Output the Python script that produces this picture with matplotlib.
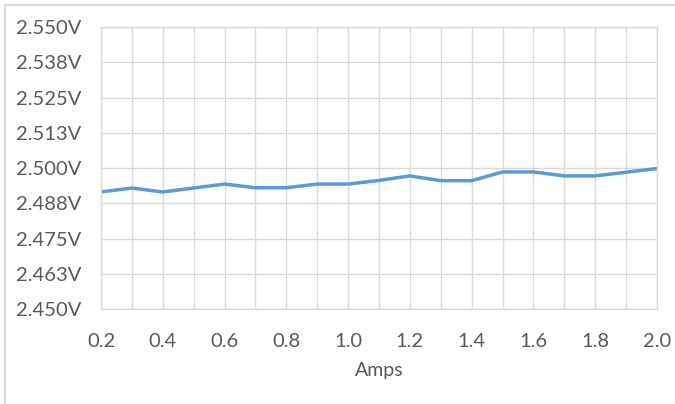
import matplotlib.pyplot as plt
from matplotlib.lines import Line2D

amps = [0.2, 0.3, 0.4, 0.5, 0.6, 0.7, 0.8, 0.9, 1.0, 1.1,
        1.2, 1.3, 1.4, 1.5, 1.6, 1.7, 1.8, 1.9, 2.0]
volts = [2.4915, 2.4929, 2.4915, 2.4929, 2.4943, 2.4930, 2.4930, 2.4943, 2.4943, 2.4956,
         2.4972, 2.4955, 2.4955, 2.4986, 2.4986, 2.4972, 2.4972, 2.4985, 2.4998]

y_ticks = [2.45, 2.4625, 2.475, 2.4875, 2.5, 2.5125, 2.525, 2.5375, 2.55]
y_labels = ["2.450V", "2.463V", "2.475V", "2.488V", "2.500V",
            "2.513V", "2.525V", "2.538V", "2.550V"]
x_labels = ["0.2", "", "0.4", "", "0.6", "", "0.8", "", "1.0", "",
            "1.2", "", "1.4", "", "1.6", "", "1.8", "", "2.0"]

text_col = "#595959"
grid_col = "#D9D9D9"

plt.rcParams["font.family"] = ["Lato", "DejaVu Sans"]

fig = plt.figure(figsize=(6.75, 4.04), dpi=100)
ax = fig.add_axes([101 / 675, 1 - 309 / 404, 556 / 675, 282 / 404])

ax.plot(amps, volts, color="#5B9BD5", linewidth=2.5, solid_joinstyle="round")

ax.set_xlim(0.2, 2.0)
ax.set_ylim(2.45, 2.55)
ax.set_xticks(amps)
ax.set_xticklabels(x_labels)
ax.set_yticks(y_ticks)
ax.set_yticklabels(y_labels)
ax.grid(True, color=grid_col, linewidth=1.0)
ax.set_axisbelow(True)
for s in ax.spines.values():
    s.set_color(grid_col)
    s.set_linewidth(1.0)
ax.tick_params(length=0, labelsize=14.5, labelcolor=text_col)
ax.tick_params(axis="y", pad=14)
ax.tick_params(axis="x", pad=17)
ax.set_xlabel("Amps", fontsize=14, color=text_col, labelpad=9)

# chart area border (only top and left visible in the crop)
fig.add_artist(Line2D([5.5 / 675, 1], [1 - 4.5 / 404, 1 - 4.5 / 404],
                      transform=fig.transFigure, color=grid_col, linewidth=1.5))
fig.add_artist(Line2D([5.5 / 675, 5.5 / 675], [0, 1 - 4.5 / 404],
                      transform=fig.transFigure, color=grid_col, linewidth=1.5))

fig.savefig("out.png", dpi=100)
